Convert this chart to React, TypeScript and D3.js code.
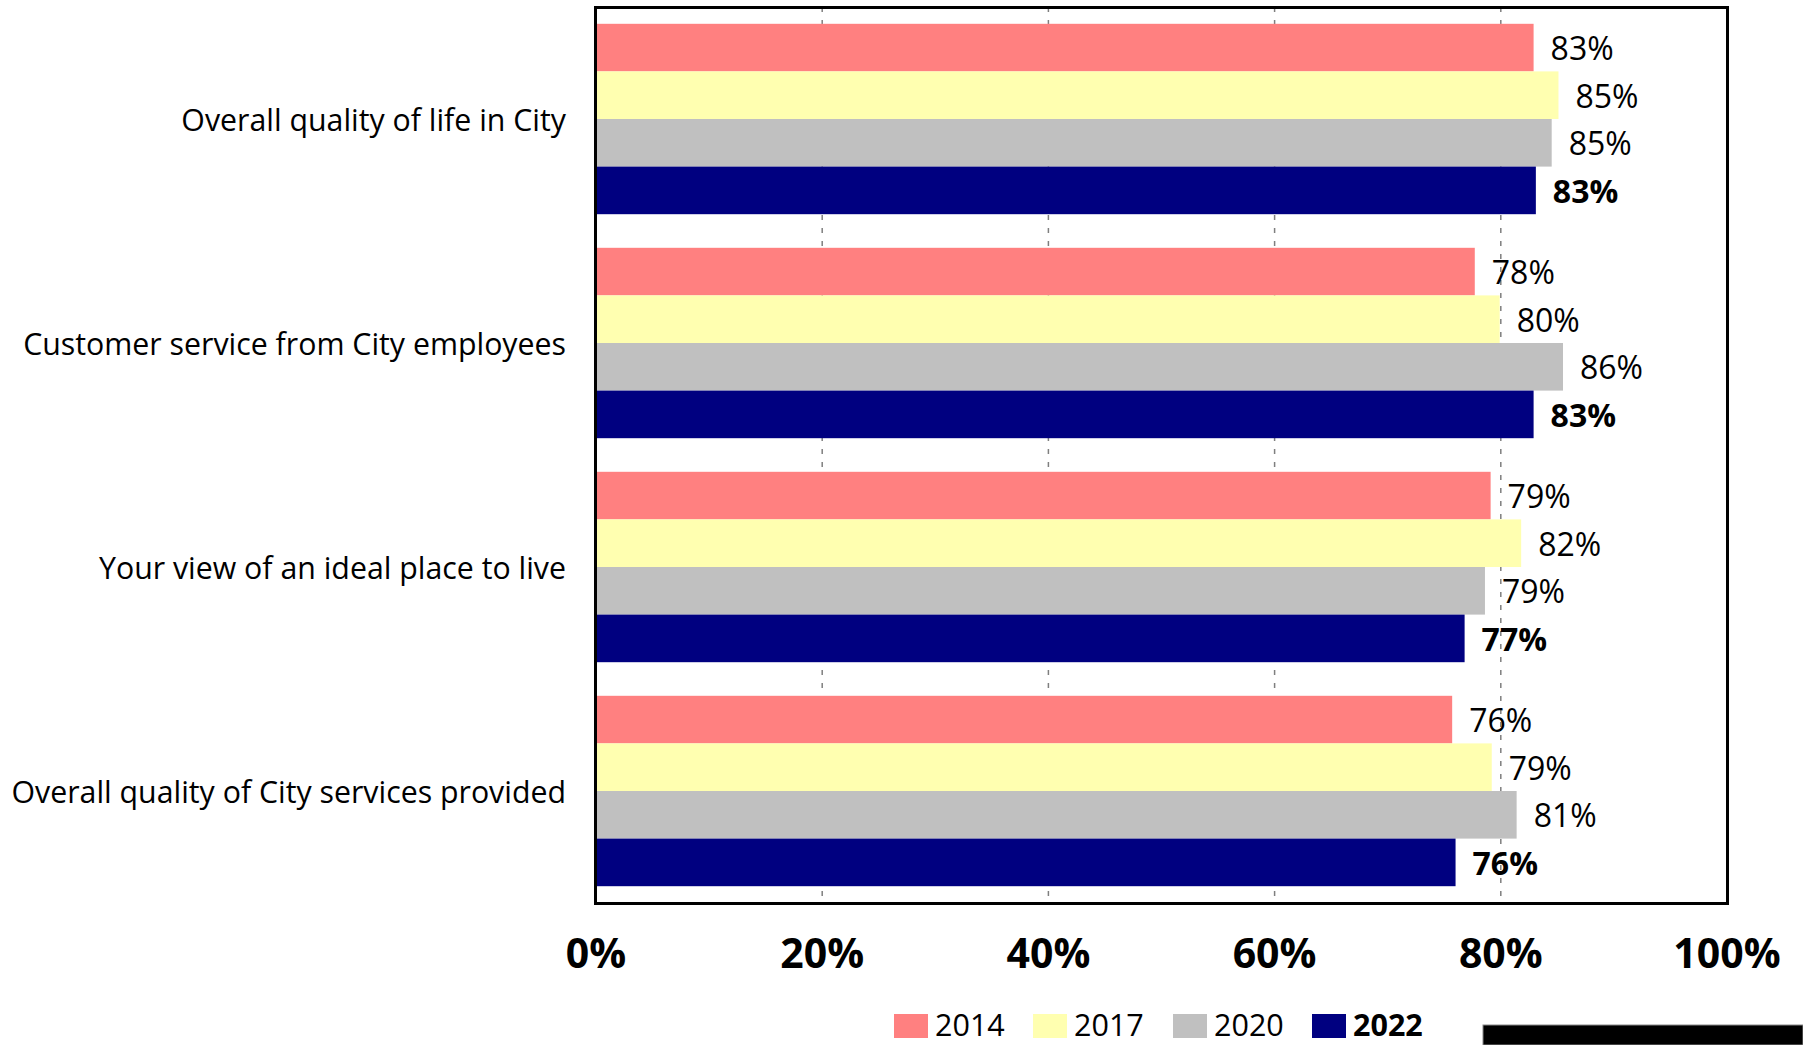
import React from "react";
import * as d3 from "d3";

const categories = [
  "Overall quality of life in City",
  "Customer service from City employees",
  "Your view of an ideal place to live",
  "Overall quality of City services provided",
];
const years = ["2014", "2017", "2020", "2022"];
const values2014 = [82.9, 77.7, 79.1, 75.7];
const values2017 = [85.1, 79.9, 81.8, 79.2];
const values2020 = [84.5, 85.5, 78.6, 81.4];
const values2022 = [83.1, 82.9, 76.8, 76.0];
const seriesValues = [values2014, values2017, values2020, values2022];
const colors = ["#FF8080", "#FFFFB0", "#C0C0C0", "#000080"];
const xTicks = [0, 20, 40, 60, 80, 100];
const gridTicks = [20, 40, 60, 80];

const W = 1803;
const H = 1045;
const FONT = "'Open Sans', 'Noto Sans', sans-serif";

export default function App() {
  const left = 596;
  const right = 1727;
  const top = 7;
  const bottom = 903;
  const x = d3.scaleLinear().domain([0, 100]).range([left, right]);
  const y = d3
    .scaleBand<string>()
    .domain(categories)
    .range([top, bottom])
    .paddingInner(0.15)
    .paddingOuter(0.075);
  const sub = d3.scaleBand<string>().domain(years).range([0, y.bandwidth()]);

  const legendX = [894, 1033, 1173, 1312];

  return (
    <svg
      width={W}
      height={H}
      style={{ position: "absolute", left: 0, top: 0, background: "#fff" }}
      fontFamily={FONT}
    >
      <rect x={0} y={0} width={W} height={H} fill="#fff" />
      {gridTicks.map((t) => (
        <line
          key={t}
          x1={x(t)}
          x2={x(t)}
          y1={top}
          y2={bottom}
          stroke="#7f7f7f"
          strokeWidth={1.5}
          strokeDasharray="5,8"
        />
      ))}
      {categories.map((c, ci) => (
        <g key={c}>
          {years.map((yr, si) => {
            const v = seriesValues[si][ci];
            const by = (y(c) as number) + (sub(yr) as number);
            const bh = sub.bandwidth();
            return (
              <g key={yr}>
                <rect
                  x={x(0)}
                  y={by}
                  width={x(v) - x(0)}
                  height={bh}
                  fill={colors[si]}
                />
                <text
                  x={x(v) + 17}
                  y={by + bh / 2}
                  dominantBaseline="central"
                  fontSize={32}
                  fontWeight={si === 3 ? 700 : 400}
                  fill="#000"
                >
                  {Math.round(v)}%
                </text>
              </g>
            );
          })}
          <text
            x={566}
            y={(y(c) as number) + y.bandwidth() / 2}
            textAnchor="end"
            dominantBaseline="central"
            fontSize={30.3}
            fill="#000"
          >
            {c}
          </text>
        </g>
      ))}
      <rect
        x={left - 0.5}
        y={top + 0.5}
        width={right - left + 1}
        height={bottom - top}
        fill="none"
        stroke="#000"
        strokeWidth={3}
      />
      {xTicks.map((t) => (
        <text
          key={t}
          x={x(t)}
          y={952}
          textAnchor="middle"
          dominantBaseline="central"
          fontSize={41}
          fontWeight={700}
          fill="#000"
        >
          {t}%
        </text>
      ))}
      {years.map((yr, i) => (
        <g key={yr}>
          <rect x={legendX[i]} y={1014} width={34} height={24} fill={colors[i]} />
          <text
            x={legendX[i] + 41}
            y={1024}
            dominantBaseline="central"
            fontSize={30.5}
            fontWeight={i === 3 ? 700 : 400}
            fill="#000"
          >
            {yr}
          </text>
        </g>
      ))}
      <rect x={1483} y={1025} width={320} height={20} fill="#000" stroke="#888" strokeWidth={1} />
    </svg>
  );
}
